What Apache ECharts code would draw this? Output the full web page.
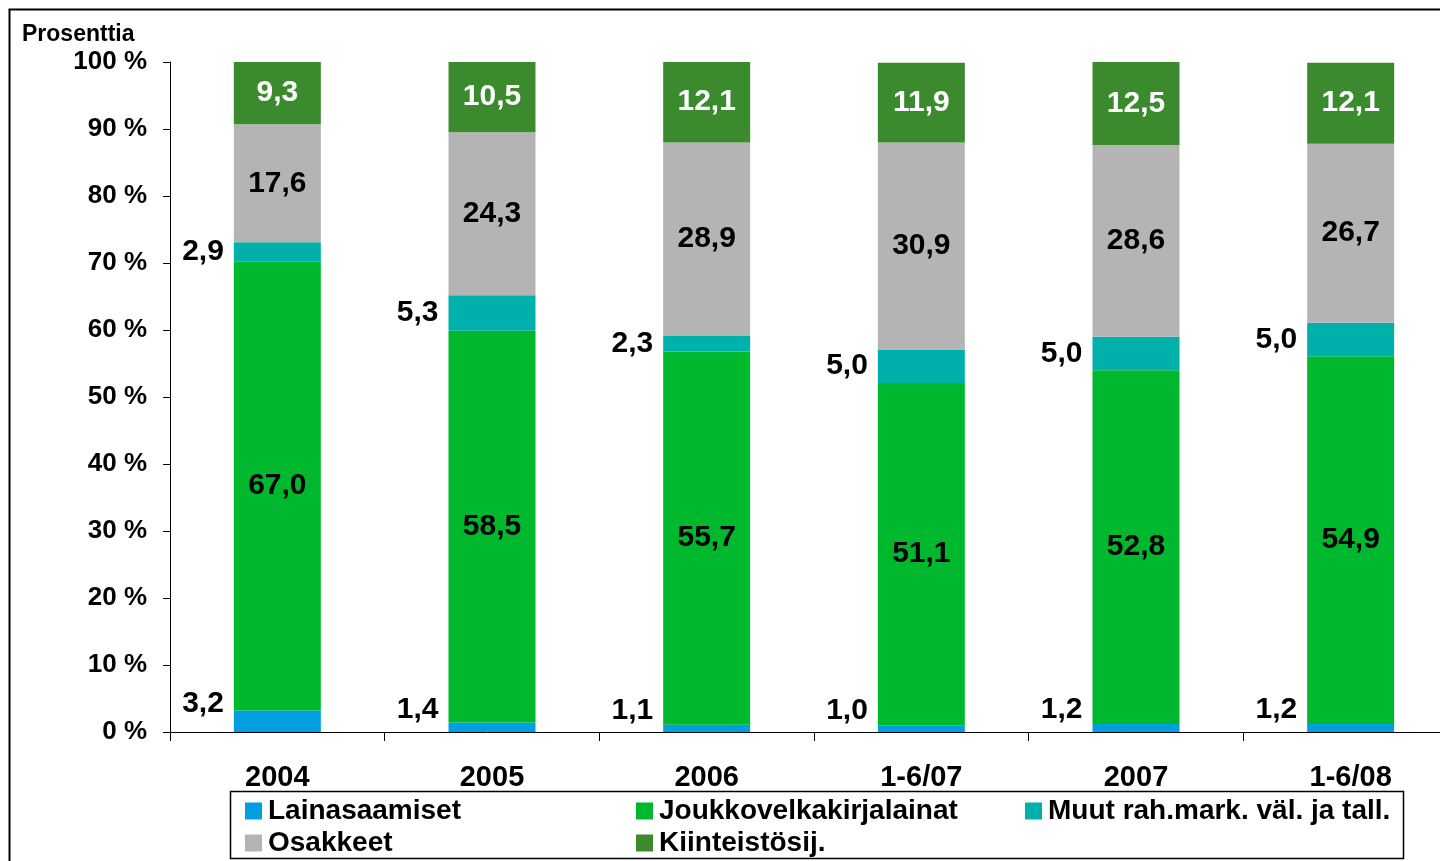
<!DOCTYPE html>
<html>
<head>
<meta charset="utf-8">
<script src="https://cdn.jsdelivr.net/npm/echarts@6/dist/echarts.min.js"></script>
<style>
html,body{margin:0;padding:0;background:#fff;overflow:hidden;}
#chart{width:1440px;height:861px;}
</style>
</head>
<body>
<div id="chart"></div>
<script>
const categories = ['2004', '2005', '2006', '1-6/07', '2007', '1-6/08'];
const seriesNames = ['Lainasaamiset', 'Joukkovelkakirjalainat', 'Muut rah.mark. väl. ja tall.', 'Osakkeet', 'Kiinteistösij.'];
const lainasaamiset = [3.2, 1.4, 1.1, 1.0, 1.2, 1.2];
const joukkovelkakirjalainat = [67.0, 58.5, 55.7, 51.1, 52.8, 54.9];
const muut = [2.9, 5.3, 2.3, 5.0, 5.0, 5.0];
const osakkeet = [17.6, 24.3, 28.9, 30.9, 28.6, 26.7];
const kiinteistot = [9.3, 10.5, 12.1, 11.9, 12.5, 12.1];
const yTicks = [0, 10, 20, 30, 40, 50, 60, 70, 80, 90, 100];

const FONT = "'Liberation Sans', Arial, sans-serif";
const colors = ['#00A0E0', '#00B82E', '#00B0AA', '#B4B4B4', '#3C8A2E'];
const fmt = p => p.value.toFixed(1).replace('.', ',');

const insideLabel = (color) => ({
  show: true, position: 'inside', formatter: fmt,
  color: color, fontFamily: FONT, fontWeight: 'bold', fontSize: 30
});
const leftLabel = (offY) => ({
  show: true, position: 'left', distance: 10, offset: [0, offY], formatter: fmt,
  color: '#000', fontFamily: FONT, fontWeight: 'bold', fontSize: 30
});

const dataArrays = [lainasaamiset, joukkovelkakirjalainat, muut, osakkeet, kiinteistot];
const labels = [leftLabel(-18), insideLabel('#000'), leftLabel(0), insideLabel('#000'), insideLabel('#fff')];

const series = dataArrays.map((arr, i) => ({
  name: seriesNames[i],
  type: 'bar',
  stack: 'total',
  barWidth: 87,
  data: arr,
  itemStyle: { color: colors[i] },
  label: labels[i],
  emphasis: { disabled: true }
}));

const legendPos = [
  { left: 245, top: 797 },
  { left: 636, top: 797 },
  { left: 1025, top: 797 },
  { left: 245, top: 829 },
  { left: 636, top: 829 }
];
const legends = seriesNames.map((n, i) => ({
  data: [n],
  left: legendPos[i].left,
  top: legendPos[i].top,
  padding: 0,
  itemWidth: 17, itemHeight: 17,
  icon: 'rect',
  selectedMode: false,
  textStyle: { fontFamily: FONT, fontWeight: 'bold', fontSize: 28, color: '#000', padding: [0, 0, 0, 1] }
}));

const chart = echarts.init(document.getElementById('chart'), null, { renderer: 'canvas' });
chart.setOption({
  animation: false,
  backgroundColor: '#fff',
  title: {
    text: 'Prosenttia', left: 22, top: 23, padding: 0,
    textStyle: { fontFamily: FONT, fontWeight: 'bold', fontSize: 23, color: '#000' }
  },
  grid: { left: 170, width: 1288, top: 62, height: 670, containLabel: false, outerBoundsMode: 'none' },
  legend: legends,
  xAxis: {
    type: 'category',
    data: categories,
    boundaryGap: true,
    axisLine: { lineStyle: { color: '#000', width: 1 } },
    axisTick: { show: true, length: 9, lineStyle: { color: '#000' } },
    axisLabel: { margin: 31, fontFamily: FONT, fontWeight: 'bold', fontSize: 29, color: '#000' },
    splitLine: { show: false }
  },
  yAxis: {
    type: 'value',
    min: yTicks[0], max: yTicks[yTicks.length - 1], interval: 10,
    axisLine: { show: true, lineStyle: { color: '#000', width: 1 } },
    axisTick: { show: true, length: 7, inside: false, lineStyle: { color: '#000' } },
    axisLabel: { margin: 23, formatter: v => v + ' %', fontFamily: FONT, fontWeight: 'bold', fontSize: 26, color: '#000' },
    splitLine: { show: false }
  },
  graphic: [
    { type: 'rect', shape: { x: 9.5, y: 9.5, width: 1500, height: 900 }, style: { fill: 'none', stroke: '#000', lineWidth: 2 }, silent: true, z: -1 },
    { type: 'rect', shape: { x: 230.5, y: 791.5, width: 1173, height: 67 }, style: { fill: 'none', stroke: '#000', lineWidth: 1.5 }, silent: true }
  ],
  series: series
});
</script>
</body>
</html>
